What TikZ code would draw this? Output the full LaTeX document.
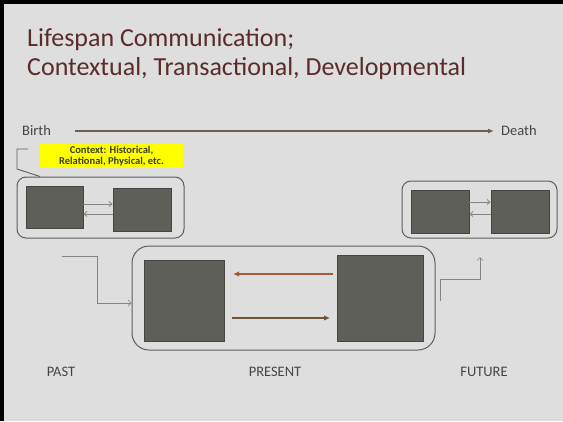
\documentclass[tikz,border=0pt]{standalone}
\usepackage{fontspec}
\setmainfont{Carlito}
\usetikzlibrary{arrows.meta}
\definecolor{paper}{HTML}{DEDEDE}
\definecolor{titlecol}{HTML}{5A2C2A}
\definecolor{textcol}{HTML}{454545}
\definecolor{blockfill}{HTML}{5F5F5A}
\definecolor{blockline}{HTML}{454542}
\definecolor{framecol}{HTML}{5E5E5E}
\definecolor{thincol}{HTML}{858585}
\definecolor{timecol}{HTML}{6E5F4A}
\definecolor{rustcol}{HTML}{A35A3A}
\definecolor{browncol}{HTML}{6B5536}
\definecolor{notecol}{HTML}{FFFF00}
\definecolor{notetext}{HTML}{3E3E22}
\tikzset{
  block/.style={draw=blockline, fill=blockfill, line width=0.8pt, inner sep=0pt},
  frame/.style={draw=framecol, line width=1pt, inner sep=0pt},
  smallarrow/.style={draw=thincol, line width=0.8pt, -{Straight Barb[length=3pt,width=5pt]}},
  conn/.style={draw=thincol, line width=0.7pt},
  label/.style={text=textcol, font=\fontsize{14.5}{16}\selectfont, inner sep=0pt},
  titletext/.style={text=titlecol, font=\fontsize{26}{30}\selectfont, inner sep=0pt, anchor=base west}
}
\begin{document}
\begin{tikzpicture}[x=1pt,y=-1pt]
\useasboundingbox (0,0) rectangle (563,421);
% slide background with its dark edge
\fill[paper] (0,0) rectangle (563,421);
\fill[black] (0,0) rectangle (563,4);
\fill[black] (0,0) rectangle (4,421);

% heading
\node[titletext] (t1) at (27,46) {Lifespan Communication;};
\node[titletext] (t2) at (27,75) {Contextual, Transactional, Developmental};

% timeline
\node[label, anchor=west] (birth) at (22,131) {Birth};
\node[label, anchor=west] (death) at (501,131) {Death};
\draw[timecol, line width=1.4pt, -{Latex[length=6pt,width=5pt]}] (75,131) -- (death.west -| 494,131);

% context note
\node[fill=notecol, minimum width=143pt, minimum height=24pt, inner sep=0pt, align=center,
      text=notetext, font=\bfseries\fontsize{10.5}{11.5}\selectfont] (note) at (111.5,156)
      {Context: Historical,\\Relational, Physical, etc.};
\coordinate (c0) at (28,149);
\coordinate (c1) at (17,149);
\coordinate (c2) at (17,169);
\coordinate (c3) at (40,176.5);
\draw[framecol, line width=0.9pt] (c0) -- (c1) -- (c2) -- (c3);

% past group
\node[frame, rounded corners=9pt, minimum width=167pt, minimum height=61pt] (past) at (100.5,207.5) {};
\node[block, minimum width=57pt, minimum height=42pt] (p1) at (54.5,207) {};
\node[block, minimum width=58pt, minimum height=43pt] (p2) at (142,209.5) {};
\draw[smallarrow] (p1.east |- 0,204) -- (p2.west |- 0,204);
\draw[smallarrow] (p2.west |- 0,214) -- (p1.east |- 0,214);

% future group
\node[frame, rounded corners=9pt, minimum width=155pt, minimum height=57pt] (future) at (479.5,209.5) {};
\node[block, minimum width=58pt, minimum height=43pt] (f1) at (440,211.5) {};
\node[block, minimum width=58pt, minimum height=43pt] (f2) at (520,211.5) {};
\draw[smallarrow] (f1.east |- 0,202) -- (f2.west |- 0,202);
\draw[smallarrow] (f2.west |- 0,214) -- (f1.east |- 0,214);

% present group
\node[frame, rounded corners=17pt, minimum width=303pt, minimum height=104pt] (present) at (283.5,298) {};
\node[block, minimum width=80pt, minimum height=81pt] (a) at (184,300.5) {};
\node[block, minimum width=86pt, minimum height=86pt] (b) at (380,298) {};
\coordinate (r0) at (333,274);
\coordinate (r1) at (233,274);
\coordinate (s0) at (232,318);
\coordinate (s1) at (330,318);
\draw[rustcol, line width=1.8pt, -{Latex[length=6pt,width=5.5pt]}] (r0) -- (r1);
\draw[browncol, line width=1.8pt, -{Latex[length=6pt,width=5.5pt]}] (s0) -- (s1);

% links into and out of the present
\coordinate (in0) at (62,256);
\coordinate (in1) at (97,303);
\draw[conn, -{Straight Barb[length=3pt,width=6pt]}] (in0) -| (in1) -- (present.west |- in1);
\coordinate (out0) at (440,301);
\coordinate (out1) at (440,279);
\coordinate (out2) at (480,257);
\draw[conn, -{Straight Barb[length=3pt,width=6pt]}] (out0) -- (out1) -| (out2);

% period labels
\node[label] (pastlbl) at (61,372) {PAST};
\node[label] (presentlbl) at (275,372) {PRESENT};
\node[label] (futurelbl) at (484,372) {FUTURE};
\end{tikzpicture}
\end{document}
